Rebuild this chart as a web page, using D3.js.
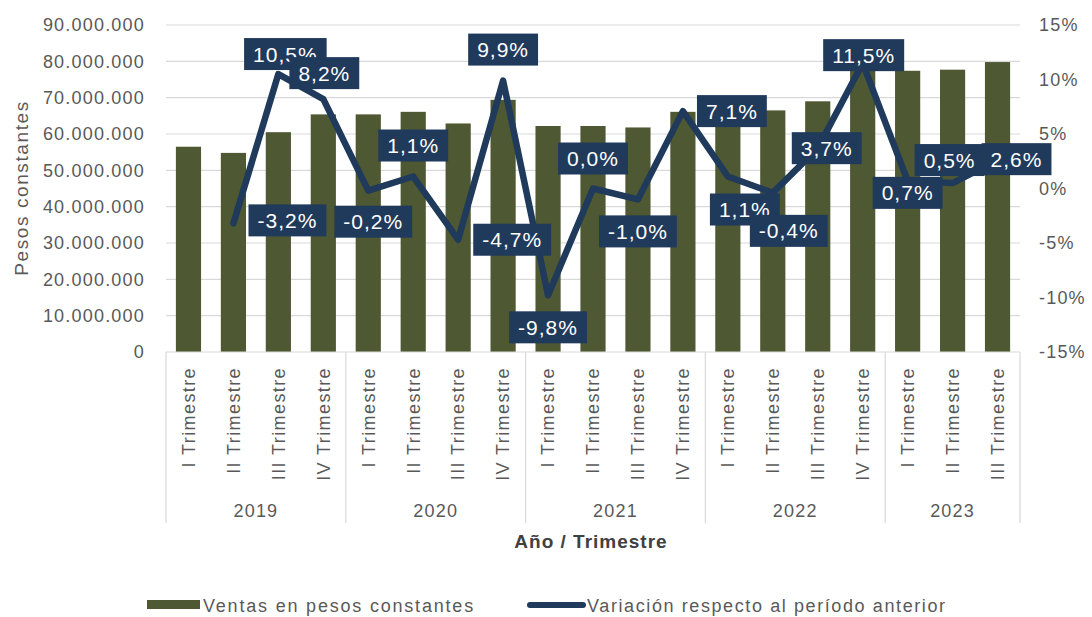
<!DOCTYPE html>
<html>
<head>
<meta charset="utf-8">
<script src="https://cdn.jsdelivr.net/npm/d3@7"></script>
<style>
  body { margin: 0; background: #fff; }
  svg text { font-family: "Liberation Sans", Arial, sans-serif; }
</style>
</head>
<body>
<svg id="chart" width="1092" height="617"></svg>
<script>
// data
const years = ["2019", "2020", "2021", "2022", "2023"];
const quarterNames = ["I Trimestre", "II Trimestre", "III Trimestre", "IV Trimestre"];
const quartersPerYear = [4, 4, 4, 4, 3];
const ventas = [56500000, 54800000, 60500000, 65400000,
                65400000, 66100000, 62900000, 69400000,
                62200000, 62200000, 61800000, 66100000,
                65500000, 66500000, 69000000, 78500000,
                77400000, 77700000, 79800000];
const variacion = [null, -3.2, 10.5, 8.2,
                   -0.2, 1.1, -4.7, 9.9,
                   -9.8, 0.0, -1.0, 7.1,
                   1.1, -0.4, 3.7, 11.5,
                   0.7, 0.5, 2.6];
const leftTicks = [0, 10000000, 20000000, 30000000, 40000000, 50000000, 60000000, 70000000, 80000000, 90000000];
const rightTicks = [-15, -10, -5, 0, 5, 10, 15];

// where each data label box sits relative to its point
const labelPos = [null, [54, -3], [7, -20], [1, -26],
                  [5, 31], [0, -31], [54, 0], [0, -31],
                  [0, 32], [0, -30], [0, 32], [49, 0],
                  [17, 33], [16, 38], [9, 0], [1, -8],
                  [0, 12], [-3, -23], [19, -1]];

const categories = [];
years.forEach((y, yi) => {
    for (let q = 0; q < quartersPerYear[yi]; q++) {
        categories.push({ id: categories.length, year: y, quarter: quarterNames[q] });
    }
});

const barColor = "#4e5832";
const lineColor = "#203a5c";
const textGray = "#595959";
const gridColor = "#d9d9d9";

const plot = { left: 166, right: 1020, top: 25, bottom: 352 };

const svg = d3.select("#chart");

const x = d3.scaleBand()
    .domain(categories.map(d => d.id))
    .range([plot.left, plot.right])
    .paddingInner(0.44)
    .paddingOuter(0.22);

const yLeft = d3.scaleLinear().domain([0, 90000000]).range([plot.bottom, plot.top]);
const yRight = d3.scaleLinear().domain([-15, 15]).range([plot.bottom, plot.top]);

const locale = d3.formatLocale({ decimal: ",", thousands: ".", grouping: [3], currency: ["$", ""], minus: "-" });
const fmtMillions = locale.format(",.0f");
const fmtPct = v => locale.format(".1f")(v) + "%";

// gridlines
svg.append("g")
    .selectAll("line")
    .data(leftTicks.filter(t => t > 0))
    .enter().append("line")
    .attr("x1", plot.left)
    .attr("x2", plot.right)
    .attr("y1", d => yLeft(d))
    .attr("y2", d => yLeft(d))
    .attr("stroke", gridColor)
    .attr("stroke-width", 1.2);

// left axis
const leftAxis = svg.append("g")
    .attr("transform", `translate(${plot.left},0)`)
    .call(d3.axisLeft(yLeft).tickValues(leftTicks).tickFormat(fmtMillions).tickSize(0).tickPadding(21));
leftAxis.select(".domain").remove();
leftAxis.selectAll("text")
    .attr("font-size", "18px")
    .attr("letter-spacing", "1.2px")
    .attr("fill", textGray);

// right axis
const rightAxis = svg.append("g")
    .attr("transform", `translate(${plot.right},0)`)
    .call(d3.axisRight(yRight).tickValues(rightTicks).tickFormat(d => d + "%").tickSize(0).tickPadding(19));
rightAxis.select(".domain").remove();
rightAxis.selectAll("text")
    .attr("font-size", "18px")
    .attr("letter-spacing", "1.2px")
    .attr("fill", textGray);

// bars
svg.append("g")
    .selectAll("rect")
    .data(categories)
    .enter().append("rect")
    .attr("x", d => x(d.id))
    .attr("y", d => yLeft(ventas[d.id]))
    .attr("width", x.bandwidth())
    .attr("height", d => plot.bottom - yLeft(ventas[d.id]))
    .attr("fill", barColor);

// baseline
svg.append("line")
    .attr("x1", plot.left).attr("x2", plot.right)
    .attr("y1", plot.bottom).attr("y2", plot.bottom)
    .attr("stroke", gridColor).attr("stroke-width", 1.2);

// category axis: quarter labels, year separators, year labels
const step = x.step();
const sepBottom = 523;
let boundary = plot.left;
const seps = [plot.left];
quartersPerYear.forEach(n => { boundary += n * step; seps.push(Math.min(boundary, plot.right)); });

svg.append("g")
    .selectAll("line")
    .data(seps)
    .enter().append("line")
    .attr("x1", d => d).attr("x2", d => d)
    .attr("y1", plot.bottom).attr("y2", sepBottom)
    .attr("stroke", gridColor).attr("stroke-width", 1.2);

svg.append("g")
    .selectAll("text")
    .data(categories)
    .enter().append("text")
    .attr("transform", d => `translate(${x(d.id) + x.bandwidth() / 2},367) rotate(-90)`)
    .attr("text-anchor", "end")
    .attr("dy", "0.35em")
    .attr("font-size", "18px")
    .attr("letter-spacing", "1.4px")
    .attr("fill", textGray)
    .text(d => d.quarter);

svg.append("g")
    .selectAll("text")
    .data(years)
    .enter().append("text")
    .attr("x", (d, i) => (seps[i] + seps[i + 1]) / 2)
    .attr("y", 517)
    .attr("text-anchor", "middle")
    .attr("font-size", "18px")
    .attr("letter-spacing", "1.2px")
    .attr("fill", textGray)
    .text(d => d);

// axis titles
svg.append("text")
    .attr("x", 591)
    .attr("y", 548)
    .attr("text-anchor", "middle")
    .attr("font-size", "19px")
    .attr("font-weight", "bold")
    .attr("letter-spacing", "1px")
    .attr("fill", "#404040")
    .text("Año / Trimestre");

svg.append("text")
    .attr("transform", "translate(28,188) rotate(-90)")
    .attr("text-anchor", "middle")
    .attr("font-size", "19px")
    .attr("letter-spacing", "1.6px")
    .attr("fill", textGray)
    .text("Pesos constantes");

// line series
const pts = categories.map(d => ({ id: d.id, v: variacion[d.id] }));
const line = d3.line()
    .defined(d => d.v !== null)
    .x(d => x(d.id) + x.bandwidth() / 2)
    .y(d => yRight(d.v));

svg.append("path")
    .datum(pts)
    .attr("fill", "none")
    .attr("stroke", lineColor)
    .attr("stroke-width", 6.5)
    .attr("stroke-linejoin", "round")
    .attr("stroke-linecap", "round")
    .attr("d", line);

// data labels
const labels = svg.append("g");
pts.filter(d => d.v !== null).forEach(d => {
    const cx = x(d.id) + x.bandwidth() / 2 + labelPos[d.id][0];
    const cy = yRight(d.v) + labelPos[d.id][1];
    const g = labels.append("g");
    const rect = g.append("rect").attr("fill", lineColor);
    const t = g.append("text")
        .attr("x", cx)
        .attr("y", cy)
        .attr("dy", "0.36em")
        .attr("text-anchor", "middle")
        .attr("font-size", "21px")
        .attr("letter-spacing", "1px")
        .attr("fill", "#ffffff")
        .text(fmtPct(d.v));
    const w = t.node().getComputedTextLength() + 18;
    rect.attr("x", cx - w / 2)
        .attr("y", cy - 16)
        .attr("width", w)
        .attr("height", 32);
});

// legend
const legend = svg.append("g");
legend.append("rect")
    .attr("x", 147).attr("y", 600)
    .attr("width", 53).attr("height", 9)
    .attr("fill", barColor);
legend.append("text")
    .attr("x", 203).attr("y", 612)
    .attr("font-size", "18px")
    .attr("letter-spacing", "1.8px")
    .attr("fill", textGray)
    .text("Ventas en pesos constantes");
legend.append("line")
    .attr("x1", 530).attr("x2", 583)
    .attr("y1", 605).attr("y2", 605)
    .attr("stroke", lineColor)
    .attr("stroke-width", 6)
    .attr("stroke-linecap", "round");
legend.append("text")
    .attr("x", 587).attr("y", 612)
    .attr("font-size", "18px")
    .attr("letter-spacing", "1.6px")
    .attr("fill", textGray)
    .text("Variación respecto al período anterior");
</script>
</body>
</html>
